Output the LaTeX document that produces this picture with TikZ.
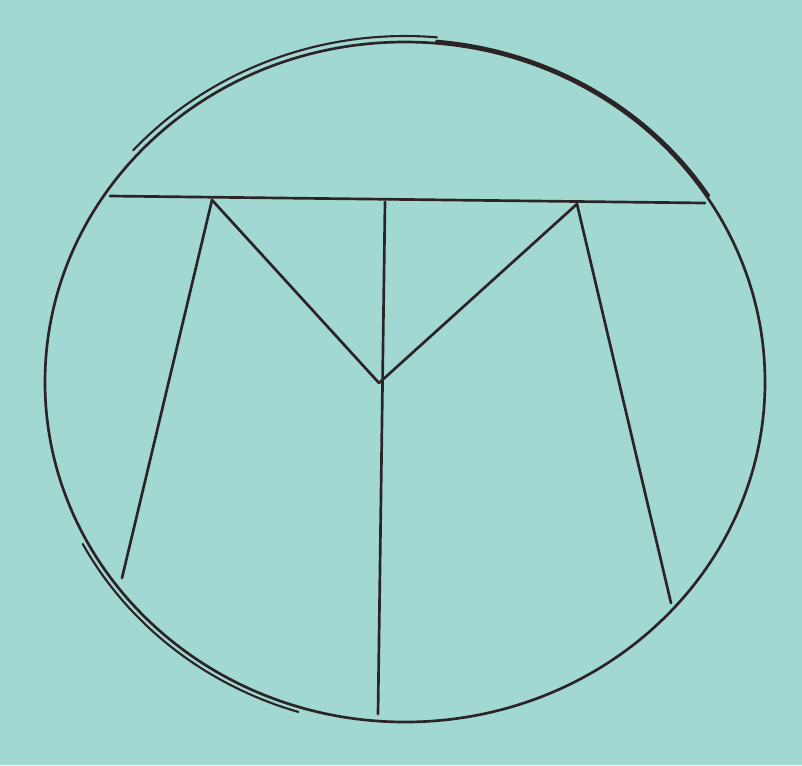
\documentclass[tikz,border=0pt]{standalone}
\definecolor{paper}{HTML}{A1D8D2}
\definecolor{ink}{HTML}{2B2326}
\begin{document}
\begin{tikzpicture}[x=0.025cm, y=-0.025cm, line width=1.9pt, draw=ink, line cap=round, line join=round]
		\fill[paper] (0,0) rectangle (802,765);
		\useasboundingbox (0,0) rectangle (802,765);

		% the circle, drawn twice in places
		\draw (405,382) ellipse [x radius=360, y radius=340];
		\draw[line width=1.5pt, domain=107:152, smooth, samples=60]
			plot ({405+365*cos(\x)},{382+345*sin(\x)});
		\draw[line width=1.5pt, domain=222:275, smooth, samples=60]
			plot ({405+366*cos(\x)},{382+346*sin(\x)});
		\draw[line width=2.3pt, domain=275:327, smooth, samples=60]
			plot ({405+362*cos(\x)},{382+342*sin(\x)});

		\coordinate (chordL) at (110,196);
		\coordinate (chordR) at (705,203);
		\coordinate (topL) at (212,200);
		\coordinate (topM) at (385,202);
		\coordinate (topR) at (577,204);
		\coordinate (vee) at (379,383);
		\coordinate (footL) at (122,578);
		\coordinate (footR) at (671,603);
		\coordinate (footM) at (378,714);

		\draw (chordL) -- (chordR);
		\draw (topL) -- (footL);
		\draw (topR) -- (footR);
		\draw (topL) -- (vee) -- (topR);
		\draw (topM) -- (footM);
	\end{tikzpicture}
\end{document}
